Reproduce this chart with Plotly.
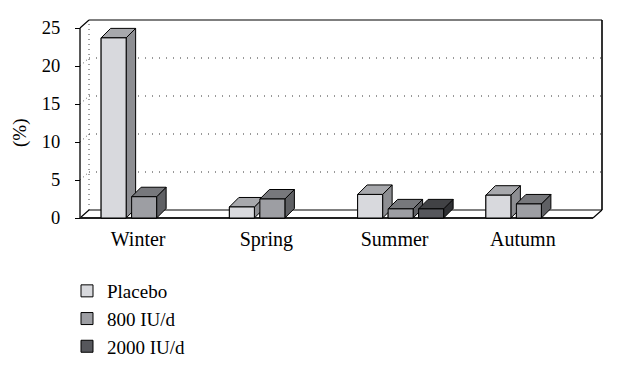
import plotly.graph_objects as go

# ---------------- data ----------------
categories = ["Winter", "Spring", "Summer", "Autumn"]
series_names = ["Placebo", "800 IU/d", "2000 IU/d"]
placebo = [23.7, 1.45, 3.1, 3.0]
iu800 = [2.8, 2.5, 1.2, 1.85]
iu2000 = [0, 0, 1.2, 0]
y_ticks = [0, 5, 10, 15, 20, 25]

# ---------------- styling / layout constants ----------------
OFF = 8                                    # default page body margin
W, H = 624 - OFF, 381 - OFF
PL, PR, PT, PB = 70 - OFF, 606 - OFF, 14 - OFF, 222 - OFF   # plot area (px in figure)
X0PX, XUNIT = 80 - OFF, 128.25             # pixel of x=-0.5, px per category
Y0PX, YUNIT = 218 - OFF, 7.6               # pixel of y=0, px per unit
BAR_W_PX, PITCH_PX = 25, 30.5
BAR_DX_PX, BAR_DY_PX = 9.5, 9.5
WALL_DX_PX, WALL_DY_PX = 9, 8
LABEL_SHIFT_PX = -6
FONT = "Liberation Serif"

front_cols = ["#d8d9dd", "#9d9ea3", "#56575c"]
top_cols = ["#a7a8ac", "#77787c", "#414245"]
side_cols = ["#8d8e92", "#5f6064", "#2f3033"]

xmin = -0.5 - (X0PX - PL) / XUNIT
xmax = -0.5 + (PR - X0PX) / XUNIT
ymin = -(PB - Y0PX) / YUNIT
ymax = (Y0PX - PT) / YUNIT

bw = BAR_W_PX / XUNIT
pitch = PITCH_PX / XUNIT
bdx = BAR_DX_PX / XUNIT
bdy = BAR_DY_PX / YUNIT
wdx = WALL_DX_PX / XUNIT
wdy = WALL_DY_PX / YUNIT

data = [placebo, iu800, iu2000]
n_ser = len(data)

fig = go.Figure()

# base bar traces (front faces, legend entries)
for j, (name, vals) in enumerate(zip(series_names, data)):
    xs = [i + (j - (n_ser - 1) / 2) * pitch for i in range(len(categories))]
    fig.add_trace(go.Bar(
        x=xs, y=[v if v > 0 else None for v in vals], width=bw, name=name,
        marker=dict(color=front_cols[j], line=dict(color="black", width=1)),
        hoverinfo="skip",
    ))

# 3D faces drawn left to right (side, top, front) for correct occlusion
bars = []
for i in range(len(categories)):
    for j in range(n_ser):
        v = data[j][i]
        if v and v > 0:
            xc = i + (j - (n_ser - 1) / 2) * pitch
            bars.append((xc - bw / 2, xc + bw / 2, v, j))
bars.sort(key=lambda b: b[0])

for xl, xr, v, j in bars:
    fig.add_trace(go.Scatter(
        x=[xr, xr + bdx, xr + bdx, xr, xr], y=[0, bdy, v + bdy, v, 0],
        fill="toself", fillcolor=side_cols[j], mode="lines",
        line=dict(color="black", width=1), showlegend=False, hoverinfo="skip"))
    fig.add_trace(go.Scatter(
        x=[xl, xr, xr + bdx, xl + bdx, xl], y=[v, v, v + bdy, v + bdy, v],
        fill="toself", fillcolor=top_cols[j], mode="lines",
        line=dict(color="black", width=1), showlegend=False, hoverinfo="skip"))
    fig.add_trace(go.Scatter(
        x=[xl, xr, xr, xl, xl], y=[0, 0, v, v, 0],
        fill="toself", fillcolor=front_cols[j], mode="lines",
        line=dict(color="black", width=1), showlegend=False, hoverinfo="skip"))

# ---------------- walls, floor, gridlines ----------------
xl_f, xr_f = -0.5, len(categories) - 0.5
ytop = y_ticks[-1]
shapes = []
def seg(x0, y0, x1, y1, width=1, dash="solid", color="black"):
    shapes.append(dict(type="line", xref="x", yref="y", x0=x0, y0=y0, x1=x1, y1=y1,
                       line=dict(color=color, width=width, dash=dash), layer="below"))

for t in y_ticks[1:-1]:
    seg(xl_f + wdx, t + wdy, xr_f + wdx, t + wdy, 1, "1px,6px", "#333")
    seg(xl_f, t, xl_f + wdx, t + wdy, 1, "1px,3px", "#555")
seg(xl_f + wdx, wdy, xl_f + wdx, ytop + wdy, 1, "1px,4px", "#444")
seg(xl_f + wdx, ytop + wdy, xr_f + wdx, ytop + wdy, 1.2)
seg(xr_f + wdx, wdy, xr_f + wdx, ytop + wdy, 1.6)
seg(xl_f + wdx, wdy, xr_f + wdx, wdy, 1.2)
seg(xl_f, 0, xl_f + wdx, wdy, 1.2)
seg(xr_f, 0, xr_f + wdx, wdy, 1.2)
seg(xl_f, ytop, xl_f + wdx, ytop + wdy, 1.2)
seg(xl_f, 0, xr_f, 0, 2.2, color="#222")
seg(xl_f, 0, xl_f, ytop, 1.5, color="#222")

fig.update_layout(
    width=W, height=H,
    margin=dict(l=PL, r=W - PR, t=PT, b=H - PB, autoexpand=False),
    paper_bgcolor="white", plot_bgcolor="white",
    barmode="overlay",
    showlegend=True,
    font=dict(family=FONT, size=18, color="black"),
    shapes=shapes,
    xaxis=dict(range=[xmin, xmax],
               tickvals=[i + LABEL_SHIFT_PX / XUNIT for i in range(len(categories))],
               ticktext=categories, showgrid=False, zeroline=False, showline=False,
               ticks="", tickfont=dict(size=20), ticklabelstandoff=3, fixedrange=True),
    yaxis=dict(range=[ymin, ymax], tickvals=y_ticks, showgrid=False, zeroline=False,
               showline=False, ticks="outside", ticklen=5, tickcolor="black",
               tickwidth=1.3, tickfont=dict(size=18.5), ticklabelstandoff=11,
               anchor="free", position=(X0PX - PL) / (PR - PL), fixedrange=True),
    legend=dict(x=(67 - OFF - PL) / (PR - PL), y=(PB - (272 - OFF)) / (PB - PT),
                xanchor="left", yanchor="top", font=dict(size=19),
                bgcolor="rgba(0,0,0,0)", tracegroupgap=0),
    annotations=[dict(text="(%)", xref="paper", yref="paper",
                      x=(20 - OFF - PL) / (PR - PL), y=(PB - (133 - OFF)) / (PB - PT),
                      xanchor="center", yanchor="middle",
                      showarrow=False, textangle=-90, font=dict(size=19))],
)

fig.write_html("out.html")
